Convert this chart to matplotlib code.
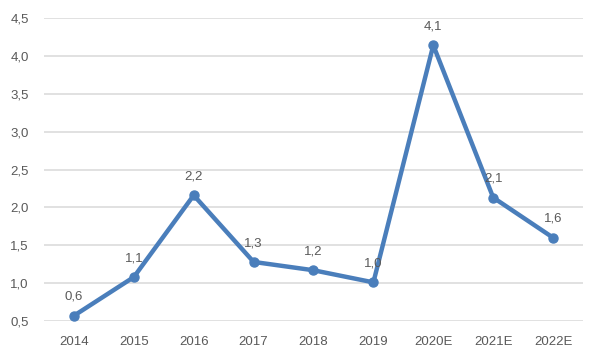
import matplotlib
matplotlib.use("Agg")
import matplotlib.pyplot as plt

categories = ["2014", "2015", "2016", "2017", "2018", "2019", "2020E", "2021E", "2022E"]
values = [0.57, 1.08, 2.16, 1.28, 1.17, 1.01, 4.14, 2.13, 1.60]
labels = ["0,6", "1,1", "2,2", "1,3", "1,2", "1,0", "4,1", "2,1", "1,6"]
yticks = [0.5, 1.0, 1.5, 2.0, 2.5, 3.0, 3.5, 4.0, 4.5]
ytick_labels = ["0,5", "1,0", "1,5", "2,0", "2,5", "3,0", "3,5", "4,0", "4,5"]

plt.rcParams['font.family'] = ['Liberation Sans', 'DejaVu Sans']
text_color = '#595959'
line_color = '#4A7EBB'

fig = plt.figure(figsize=(6, 3.6), dpi=100)
ax = fig.add_axes([0.0733, 0.1083, 0.8984, 0.8417])
x = list(range(len(categories)))
ax.plot(x, values, color=line_color, lw=3.2, marker='o', markersize=6.5, zorder=3,
        solid_capstyle='round')
for xi, v, lab in zip(x, values, labels):
    ax.annotate(lab, (xi, v), xytext=(0, 13.5), textcoords='offset points',
                ha='center', va='center', fontsize=9.5, color=text_color, zorder=4)

ax.set_xlim(-0.5, len(categories) - 0.5)
ax.set_ylim(0.5, 4.5)
ax.set_yticks(yticks)
ax.set_yticklabels(ytick_labels)
ax.set_xticks(x)
ax.set_xticklabels(categories)
ax.tick_params(axis='both', length=0, labelsize=9.5, colors=text_color)
ax.tick_params(axis='y', pad=11)
ax.tick_params(axis='x', pad=10.5)
ax.grid(axis='y', color='#d9d9d9', lw=1.1)
ax.set_axisbelow(True)
for s in ax.spines.values():
    s.set_visible(False)

fig.savefig("out.png", dpi=100)
